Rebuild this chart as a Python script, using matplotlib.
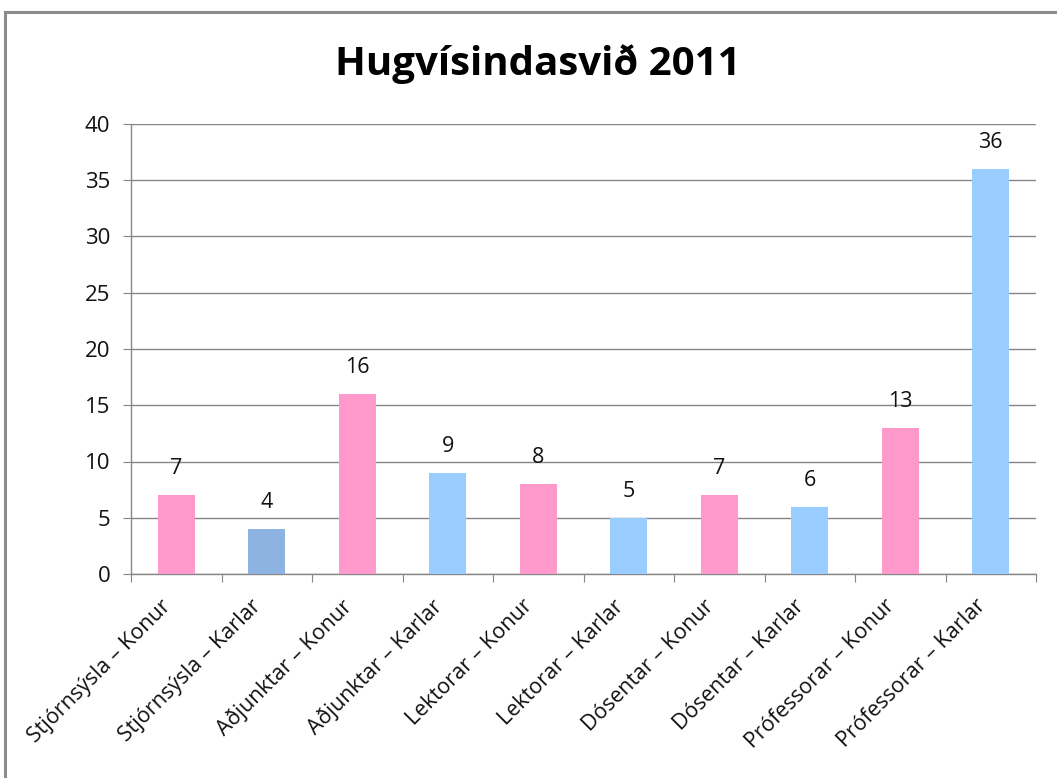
import matplotlib
matplotlib.use("Agg")
import matplotlib.pyplot as plt
from matplotlib.lines import Line2D
from matplotlib.transforms import ScaledTranslation

categories = ["Stjórnsýsla – Konur", "Stjórnsýsla – Karlar", "Aðjunktar – Konur",
              "Aðjunktar – Karlar", "Lektorar – Konur", "Lektorar – Karlar",
              "Dósentar – Konur", "Dósentar – Karlar", "Prófessorar – Konur",
              "Prófessorar – Karlar"]
values = [7, 4, 16, 9, 8, 5, 7, 6, 13, 36]
colors = ["#FF99CC", "#8DB3E2", "#FF99CC", "#99CCFF", "#FF99CC", "#99CCFF",
          "#FF99CC", "#99CCFF", "#FF99CC", "#99CCFF"]
yticks = [0, 5, 10, 15, 20, 25, 30, 35, 40]
title = "Hugvísindasvið 2011"

plt.rcParams['font.family'] = ['Open Sans', 'DejaVu Sans']

fig = plt.figure(figsize=(10.57, 7.78), dpi=100)
# outer chart frame (left and top edges visible)
fig.add_artist(Line2D([5/1057, 5/1057], [0, 1 - 12/778], transform=fig.transFigure,
                      color="#8C8C8C", linewidth=2.2))
fig.add_artist(Line2D([5/1057, 1], [1 - 12/778, 1 - 12/778], transform=fig.transFigure,
                      color="#8C8C8C", linewidth=2.2))

ax = fig.add_axes([131/1057, 1 - 574/778, (1036-131)/1057, (574-124)/778])

x = list(range(len(categories)))
ax.bar(x, values, width=0.41, color=colors, zorder=3)
for xi, v in zip(x, values):
    ax.annotate(str(v), (xi, v), xytext=(0, 11.5), textcoords="offset points",
                ha="center", va="bottom", fontsize=15.5, color="#111111")

ax.set_xlim(-0.5, len(categories) - 0.5)
ax.set_ylim(0, 40)
ax.set_yticks(yticks)
ax.set_yticklabels([str(t) for t in yticks], fontsize=16, color="#111111")
ax.yaxis.grid(True, color="#868686", linewidth=1, zorder=0)
ax.set_axisbelow(True)

ax.set_xticks([i - 0.5 for i in range(len(categories) + 1)], minor=False)
ax.set_xticklabels([])
ax.set_xticks(x, minor=True)
ax.set_xticklabels(categories, minor=True, rotation=45, ha="right",
                   rotation_mode="anchor", fontsize=15.5, color="#111111")
ax.tick_params(axis="x", which="minor", length=0, pad=12)
ax.tick_params(axis="x", which="major", length=6, color="#868686", direction="out")
ax.tick_params(axis="y", length=6, color="#868686", direction="out", pad=9)

offset = ScaledTranslation(-16/100, -5/100, fig.dpi_scale_trans)
for lbl in ax.get_xticklabels(minor=True):
    lbl.set_transform(lbl.get_transform() + offset)

for s in ["top", "right"]:
    ax.spines[s].set_visible(False)
for s in ["left", "bottom"]:
    ax.spines[s].set_color("#868686")
    ax.spines[s].set_linewidth(1)

fig.text(538/1057, 1 - 64/778, title, ha="center", va="center",
         fontsize=29, fontweight="bold", color="#000000")

fig.savefig("out.png", dpi=100)
